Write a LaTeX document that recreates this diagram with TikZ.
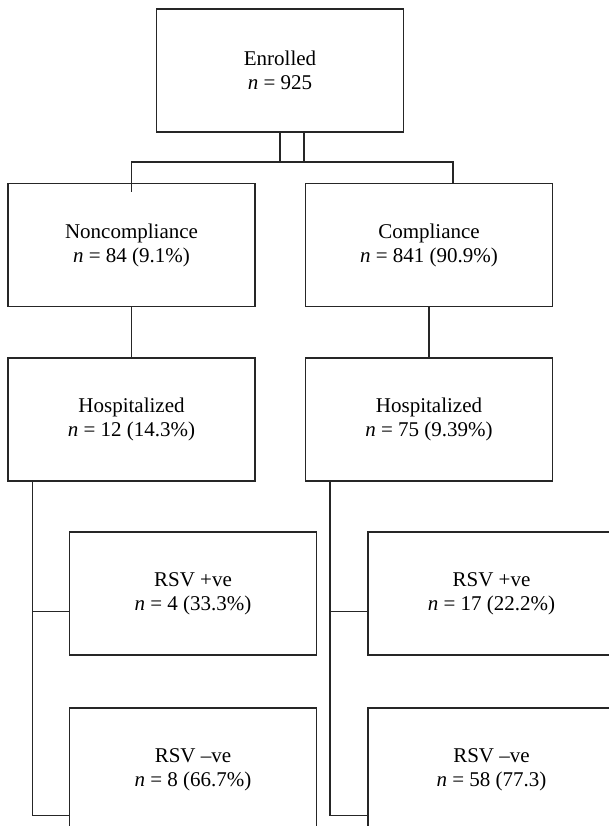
\documentclass[tikz,border=0pt]{standalone}
\usepackage{tikz}
\usetikzlibrary{positioning}
\usepackage{fontspec}
\setmainfont{Liberation Serif}

\begin{document}
\begin{tikzpicture}[x=1pt,y=-1pt,line width=1.1pt,draw=black!85]
  \tikzstyle{flowbox}=[draw=black!85,rectangle,minimum width=247pt,
    minimum height=123pt,align=center,font=\fontsize{21}{24}\selectfont]
  \useasboundingbox (0,0) rectangle (609,826);
  \clip (0,0) rectangle (609,826);
  \node[flowbox] (enrol) at (280,70.5) {Enrolled\\\textit{n} = 925};
  \node[flowbox] (noncomp) at (131.5,245) {Noncompliance\\\textit{n} = 84 (9.1\%)};
  \node[flowbox] (comp) at (429,245) {Compliance\\\textit{n} = 841 (90.9\%)};
  \node[flowbox] (hosp1) at (131.5,419.5) {Hospitalized\\\textit{n} = 12 (14.3\%)};
  \node[flowbox] (hosp2) at (429,419.5) {Hospitalized\\\textit{n} = 75 (9.39\%)};
  \node[flowbox] (pos1) at (193,593.5) {RSV +ve\\\textit{n} = 4 (33.3\%)};
  \node[flowbox] (pos2) at (491.5,593.5) {RSV +ve\\\textit{n} = 17 (22.2\%)};
  \node[flowbox] (neg1) at (193,769.5) {RSV --ve\\\textit{n} = 8 (66.7\%)};
  \node[flowbox] (neg2) at (491.5,769.5) {RSV --ve\\\textit{n} = 58 (77.3)};
  \coordinate (jl) at (131.5,162);
  \coordinate (jr) at (453,162);
  % split under enrolled
  \draw (enrol.south) -- (enrol.south |- jl);
  \draw ([xshift=24pt]enrol.south) -- ([xshift=24pt]enrol.south |- jl);
  \draw ([yshift=-9pt]noncomp.north) -- (jl) -- (jr) -- (jr |- comp.north);
  \draw (noncomp) edge (hosp1)
        (comp) edge (hosp2);
  % branches to rsv results
  \draw ([xshift=25pt]hosp1.south west) |- ([yshift=-18pt]pos1.west);
  \draw ([xshift=25pt]hosp1.south west) |- ([yshift=-46pt]neg1.west);
  \draw ([xshift=25pt]hosp2.south west) |- ([yshift=-18pt]pos2.west);
  \draw ([xshift=25pt]hosp2.south west) |- ([yshift=-46pt]neg2.west);
\end{tikzpicture}
\end{document}
